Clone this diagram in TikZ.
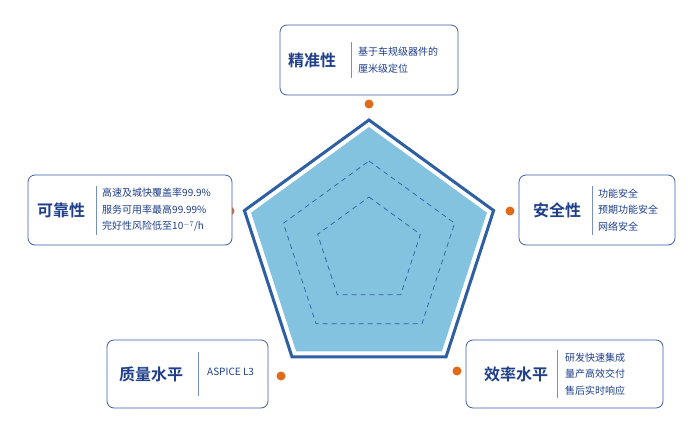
\documentclass[tikz,border=0pt]{standalone}
\usepackage{fontspec}
\setmainfont{Noto Sans CJK SC}[BoldFont={Noto Sans CJK SC Bold}]
\usetikzlibrary{positioning, calc}
\definecolor{titleblue}{HTML}{1F3F8A}
\definecolor{lineblue}{HTML}{3D5FA8}
\definecolor{radarfill}{HTML}{84C3E0}
\definecolor{radaredge}{HTML}{2E5FA3}
\definecolor{dotorange}{HTML}{E06A1A}

\begin{document}
\begin{tikzpicture}[x=1pt, y=-1pt]

% Styles
\tikzset{
  card/.style={draw=lineblue, line width=0.8pt, rounded corners=7pt, fill=white},
  title/.style={font=\bfseries\fontsize{16}{18}\selectfont, text=titleblue, inner sep=0pt},
  info/.style={font=\fontsize{10}{16.5}\selectfont, text=titleblue, align=left, anchor=west, inner sep=0pt},
  divider/.style={draw=lineblue!70, line width=0.8pt},
  dot/.style={circle, fill=dotorange, minimum size=9pt, inner sep=0pt},
  grid/.style={draw=radaredge, dashed, dash pattern=on 5pt off 4pt, line width=0.7pt}
}
\useasboundingbox (0,0) rectangle (700,444);

% Radar
\coordinate (c) at (369,251);
\fill[radarfill] ($(c)+(270:124)$) \foreach \a in {342,54,126,198} {-- ($(c)+(\a:124)$)} -- cycle;
\draw[radaredge, line width=3pt, line join=miter] ($(c)+(270:131)$) \foreach \a in {342,54,126,198} {-- ($(c)+(\a:131)$)} -- cycle;
\draw[grid] ($(c)+(270:90)$) \foreach \a in {342,54,126,198} {-- ($(c)+(\a:90)$)} -- cycle;
\draw[grid] ($(c)+(270:54)$) \foreach \a in {342,54,126,198} {-- ($(c)+(\a:54)$)} -- cycle;

% Dots
\node[dot] (dtop) at (369,104) {};
\node[dot] (dleft) at (230,211) {};
\node[dot] (dright) at (510,211) {};
\node[dot] (dbl) at (281,376) {};
\node[dot] (dbr) at (457,371) {};

% Cards
\draw[card] (280,25) rectangle (458,95);
\node[title] (precise) at (312,60) {精准性};
\draw[divider] (351,42) -- (351,78);
\node[info] (precisetxt) at (358,60) {基于车规级器件的\\厘米级定位};

\draw[card] (28,175) rectangle (232,245);
\node[title] (reliable) at (61,210) {可靠性};
\draw[divider] (96,186) -- (96,235);
\node[info] (reliabletxt) at (102,210) {高速及城快覆盖率99.9\%\\服务可用率最高99.99\%\\完好性风险低至10$^{-7}$/h};

\draw[card] (519,175) rectangle (675,245);
\node[title] (safe) at (557,210) {安全性};
\draw[divider] (592,186) -- (592,235);
\node[info] (safetxt) at (598,210) {功能安全\\预期功能安全\\网络安全};

\draw[card] (107,340) rectangle (268,408);
\node[title] (quality) at (151,374) {质量水平};
\draw[divider] (198,352) -- (198,396);
\node[info] (qualitytxt) at (207,372) {ASPICE L3};

\draw[card] (466,340) rectangle (663,408);
\node[title] (effic) at (516,374) {效率水平};
\draw[divider] (557,350) -- (557,398);
\node[info] (effictxt) at (565,374) {研发快速集成\\量产高效交付\\售后实时响应};

\end{tikzpicture}
\end{document}
